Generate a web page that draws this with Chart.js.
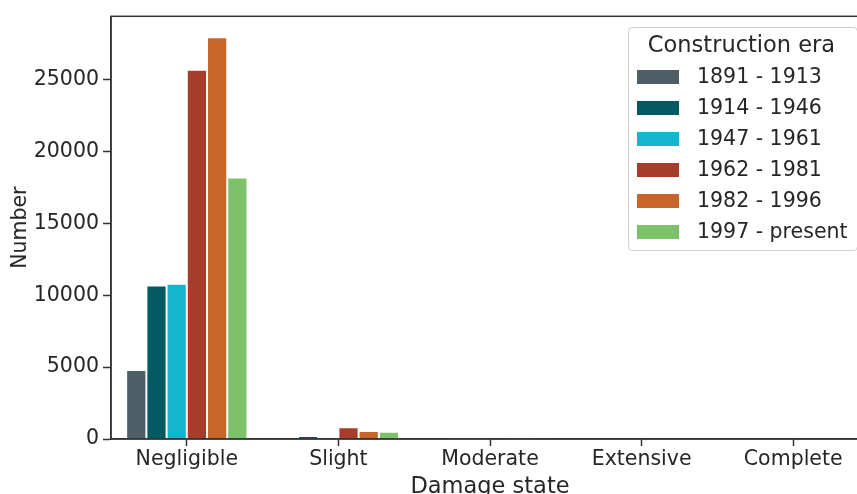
<!DOCTYPE html>
<html>
<head>
<meta charset="utf-8">
<script src="https://cdn.jsdelivr.net/npm/chart.js@4.4.1/dist/chart.umd.min.js"></script>
<style>
  html, body { margin: 0; padding: 0; background: #fff; overflow: hidden; }
  #wrap { width: 880px; height: 494px; }
</style>
</head>
<body>
<div id="wrap"><canvas id="chartjs-0" width="880" height="494"></canvas></div>
<script>
// categories and series
var damageStates = ["Negligible", "Slight", "Moderate", "Extensive", "Complete"];
var eraLabels = ["1891 - 1913", "1914 - 1946", "1947 - 1961", "1962 - 1981", "1982 - 1996", "1997 - present"];

var era1891 = [4800, 0, 0, 0, 0];
var era1914 = [10670, 200, 5, 0, 0];
var era1947 = [10790, 20, 5, 0, 0];
var era1962 = [25680, 820, 20, 0, 0];
var era1982 = [27950, 560, 70, 0, 0];
var era1997 = [18180, 500, 10, 0, 0];

var yTicks = [0, 5000, 10000, 15000, 20000, 25000];

var eraColors = ["#4d5e66", "#035a62", "#16b5cf", "#a63c2a", "#c8662a", "#7dc26b"];
var seriesValues = [era1891, era1914, era1947, era1962, era1982, era1997];

var FONT = "'DejaVu Sans', sans-serif";
var INK = "#262626";

var datasets = [];
for (var i = 0; i < eraLabels.length; i++) {
  datasets.push({
    label: eraLabels[i],
    data: seriesValues[i],
    backgroundColor: eraColors[i],
    borderColor: "#ffffff",
    borderWidth: 1,
    categoryPercentage: 0.8,
    barPercentage: 1.0
  });
}

// frame round the plot area
var framePlugin = {
  id: "frame",
  afterDraw: function (chart) {
    var a = chart.chartArea;
    var ctx = chart.ctx;
    ctx.save();
    ctx.strokeStyle = "#333333";
    ctx.lineWidth = 1.5;
    ctx.strokeRect(a.left, a.top, a.right - a.left, a.bottom - a.top);
    ctx.restore();
  }
};

// legend box drawn inside the plot, upper right
var boxLegend = {
  id: "boxLegend",
  afterDraw: function (chart) {
    var ctx = chart.ctx;
    var x = 628, y = 27, w = 229, h = 223;
    ctx.save();
    ctx.fillStyle = "rgba(255,255,255,0.85)";
    ctx.strokeStyle = "#d0d0d0";
    ctx.lineWidth = 1;
    ctx.beginPath();
    ctx.roundRect(x + 0.5, y + 0.5, w, h, 4);
    ctx.fill();
    ctx.stroke();

    ctx.fillStyle = INK;
    ctx.font = "22.5px " + FONT;
    ctx.textAlign = "center";
    ctx.textBaseline = "middle";
    ctx.fillText("Construction era", x + w / 2 - 1, 46);

    ctx.font = "20.5px " + FONT;
    ctx.textAlign = "left";
    var ds = chart.data.datasets;
    for (var i = 0; i < ds.length; i++) {
      var cy = 77 + i * 31;
      ctx.fillStyle = ds[i].backgroundColor;
      ctx.fillRect(637, cy - 7, 42, 14);
      ctx.fillStyle = INK;
      ctx.fillText(ds[i].label, 697, cy + 1);
    }
    ctx.restore();
  }
};

var ctx0 = document.getElementById("chartjs-0");
var myChart = new Chart(ctx0, {
  type: "bar",
  data: {
    labels: damageStates,
    datasets: datasets
  },
  options: {
    responsive: false,
    animation: false,
    devicePixelRatio: 1,
    layout: { padding: { left: 0, top: 15, right: 11, bottom: 0 } },
    plugins: {
      legend: { display: false },
      tooltip: { enabled: false }
    },
    scales: {
      x: {
        afterFit: function (scale) { scale.height = 55; },
        grid: {
          offset: false,
          drawOnChartArea: false,
          drawTicks: true,
          tickLength: 7,
          tickWidth: 1.5,
          tickColor: "#333333"
        },
        border: { display: true, color: "#333333", width: 1.5 },
        ticks: {
          color: INK,
          font: { family: FONT, size: 20.5 },
          padding: 1,
          maxRotation: 0
        },
        title: {
          display: true,
          text: "Damage state",
          color: INK,
          font: { family: FONT, size: 22.5, lineHeight: 1 },
          padding: { top: 0, bottom: -4 }
        }
      },
      y: {
        min: 0,
        max: 29400,
        afterFit: function (scale) { scale.width = 111; },
        afterBuildTicks: function (scale) {
          scale.ticks = yTicks.map(function (v) { return { value: v }; });
        },
        grid: {
          drawOnChartArea: false,
          drawTicks: true,
          tickLength: 8,
          tickWidth: 1.5,
          tickColor: "#333333"
        },
        border: { display: true, color: "#333333", width: 1.5 },
        ticks: {
          color: INK,
          font: { family: FONT, size: 20.5 },
          padding: 4,
          callback: function (v) { return String(v); }
        },
        title: {
          display: true,
          text: "Number",
          color: INK,
          font: { family: FONT, size: 20.5 },
          padding: { top: 8, bottom: 0 }
        }
      }
    }
  },
  plugins: [framePlugin, boxLegend]
});
</script>
</body>
</html>
